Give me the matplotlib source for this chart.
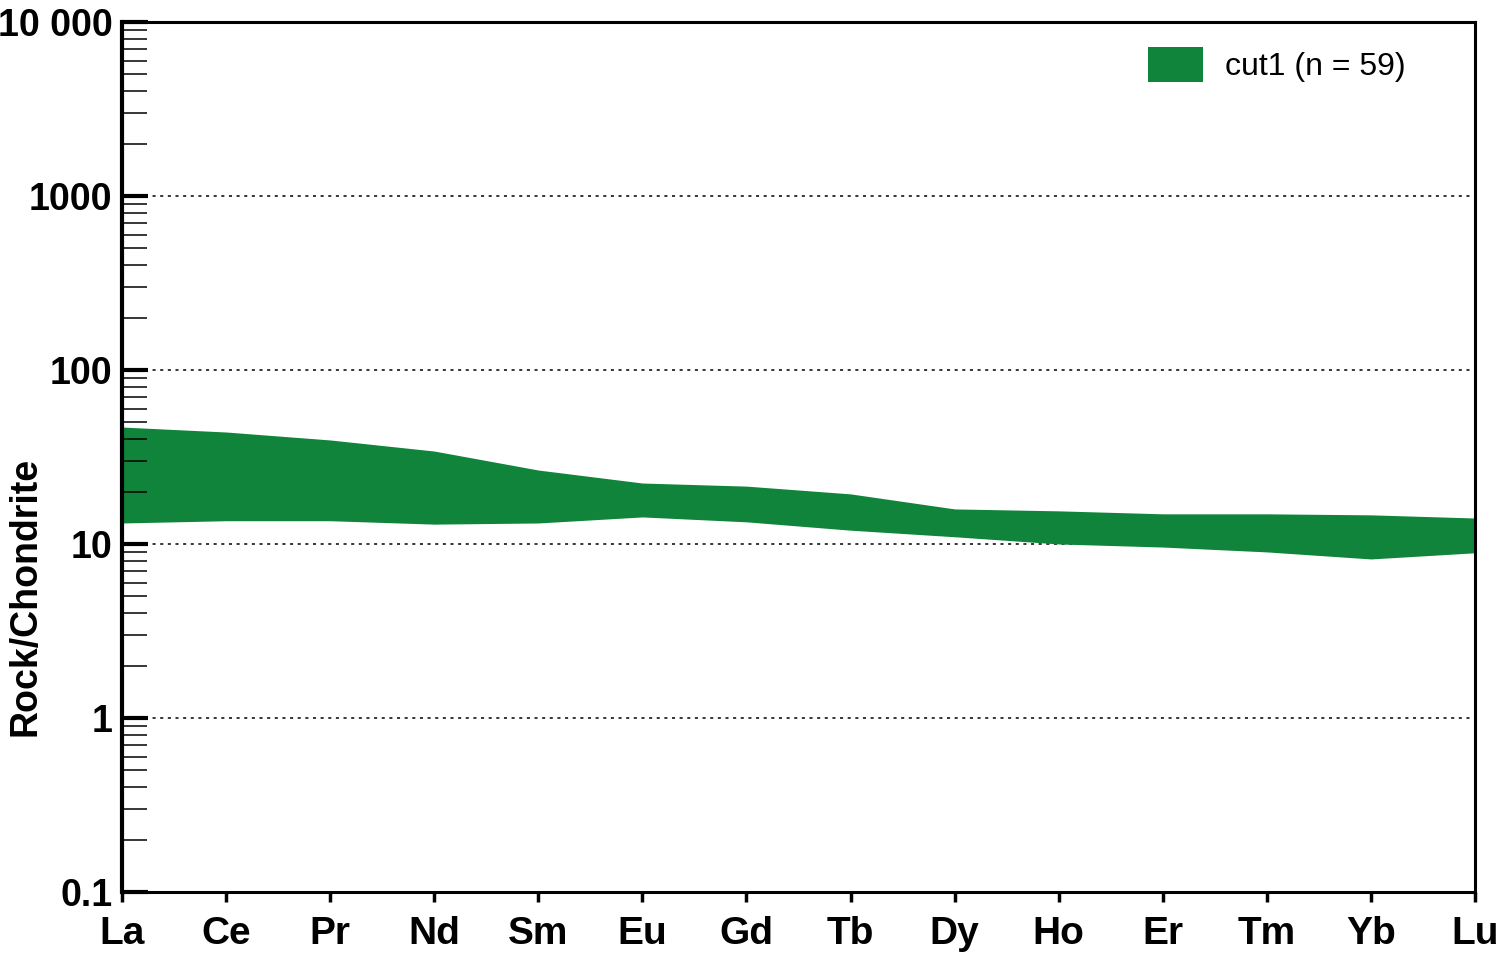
import matplotlib
matplotlib.use("Agg")
import matplotlib.pyplot as plt
from matplotlib.ticker import FixedLocator, NullFormatter
import numpy as np

# REE names along the x axis
elements = ["La", "Ce", "Pr", "Nd", "Sm", "Eu", "Gd", "Tb", "Dy", "Ho", "Er", "Tm", "Yb", "Lu"]

# chondrite-normalised envelope
upper = [47.0, 44.0, 39.6, 34.2, 26.6, 22.4, 21.5, 19.4, 15.9, 15.5, 14.9, 14.9, 14.7, 14.1]
lower = [13.2, 13.6, 13.6, 13.0, 13.2, 14.3, 13.4, 12.0, 11.0, 10.0, 9.6, 9.0, 8.2, 8.9]

legend_label = "cut1 (n = 59)"
ytick_vals = [0.1, 1, 10, 100, 1000, 10000]
ytick_labels = ["0.1", "1", "10", "100", "1000", "10 000"]

GREEN = "#10843a"
FONT = ["Liberation Sans Narrow", "Liberation Sans", "DejaVu Sans"]

plt.rcParams["font.family"] = FONT

fig = plt.figure(figsize=(14.99, 9.59), dpi=100)
ax = fig.add_axes([0.0814, 0.0699, 0.9026, 0.9072])

x = np.arange(len(elements))
ax.fill_between(x, lower, upper, color=GREEN, linewidth=0, label=legend_label)

ax.set_yscale("log")
ax.set_ylim(0.1, 10000)
ax.set_xlim(0, len(elements) - 1)

# grid at the decades
for v in ytick_vals[1:-1]:
    ax.axhline(v, color="black", linestyle=(0, (2, 3)), linewidth=1.1, zorder=0.5)

ax.yaxis.set_major_locator(FixedLocator(ytick_vals))
ax.set_yticklabels(ytick_labels, fontsize=27, fontweight="bold")
minor = [m * 10.0 ** e for e in range(-1, 4) for m in range(2, 10)]
ax.yaxis.set_minor_locator(FixedLocator(minor))
ax.yaxis.set_minor_formatter(NullFormatter())
ax.tick_params(axis="y", which="major", direction="in", length=19, width=3, pad=7)
ax.tick_params(axis="y", which="minor", direction="in", length=18, width=1.1)

ax.set_xticks(x)
ax.set_xticklabels(elements, fontsize=28, fontweight="bold")
ax.tick_params(axis="x", which="major", direction="out", length=7, width=2.5, pad=10)
ax.tick_params(axis="x", which="minor", bottom=False)

for side in ["top", "bottom", "right"]:
    ax.spines[side].set_linewidth(2.2)
ax.spines["left"].set_linewidth(3)

ax.set_ylabel("Rock/Chondrite", fontsize=27, fontweight="bold")
ax.yaxis.set_label_coords(-0.058, 0.34)

leg = ax.legend(loc="upper right", frameon=False, fontsize=23,
                handlelength=1.7, handleheight=1.3, handletextpad=0.7,
                bbox_to_anchor=(0.97, 1.004))

fig.savefig("out.png", dpi=100)
